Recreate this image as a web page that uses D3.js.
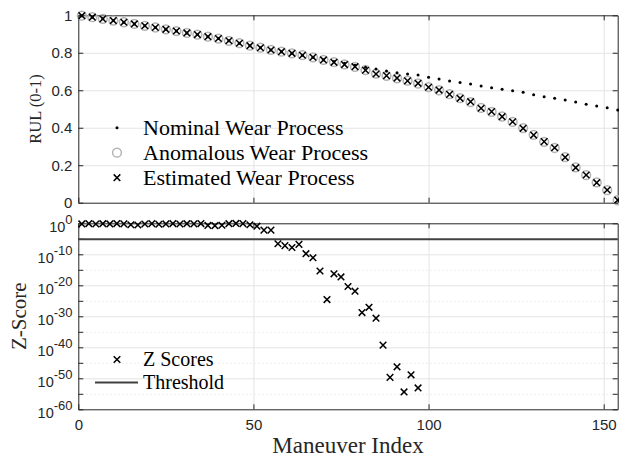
<!DOCTYPE html>
<html>
<head>
<meta charset="utf-8">
<script src="https://cdn.jsdelivr.net/npm/d3@7"></script>
<style>
body { margin: 0; background: #fff; }
</style>
</head>
<body>
<div id="chart"></div>
<script>
console.log("Drawing RUL chart..")

// maneuver indices for the RUL series (every 3rd maneuver)
const maneuverIdx = [1, 4, 7, 10, 13, 16, 19, 22, 25, 28, 31, 34, 37, 40, 43, 46, 49, 52, 55, 58,
    61, 64, 67, 70, 73, 76, 79, 82, 85, 88, 91, 94, 97, 100, 103, 106, 109, 112, 115, 118,
    121, 124, 127, 130, 133, 136, 139, 142, 145, 148, 151, 154];

const nominalRul = [0.998, 0.990, 0.981, 0.972, 0.963, 0.954, 0.944, 0.935, 0.925, 0.916,
    0.906, 0.897, 0.886, 0.876, 0.864, 0.851, 0.838, 0.827, 0.815, 0.806,
    0.797, 0.787, 0.776, 0.763, 0.753, 0.744, 0.734, 0.723, 0.713, 0.703,
    0.694, 0.687, 0.681, 0.669, 0.660, 0.649, 0.642, 0.633, 0.623, 0.614,
    0.605, 0.598, 0.589, 0.576, 0.566, 0.557, 0.548, 0.537, 0.525, 0.516,
    0.507, 0.494];

const anomalousRul = [0.998, 0.990, 0.981, 0.972, 0.963, 0.954, 0.944, 0.935, 0.925, 0.916,
    0.906, 0.897, 0.886, 0.876, 0.864, 0.851, 0.838, 0.827, 0.815, 0.806,
    0.797, 0.787, 0.776, 0.762, 0.750, 0.738, 0.725, 0.708, 0.689, 0.677,
    0.664, 0.651, 0.636, 0.617, 0.600, 0.579, 0.558, 0.537, 0.506, 0.485,
    0.460, 0.431, 0.398, 0.362, 0.325, 0.292, 0.243, 0.189, 0.147, 0.108,
    0.067, 0.013];

const estimatedRul = [0.998, 0.990, 0.981, 0.972, 0.963, 0.954, 0.944, 0.935, 0.925, 0.916,
    0.906, 0.897, 0.886, 0.876, 0.864, 0.851, 0.838, 0.827, 0.815, 0.806,
    0.797, 0.787, 0.776, 0.762, 0.749, 0.737, 0.726, 0.707, 0.687, 0.678,
    0.665, 0.650, 0.637, 0.616, 0.601, 0.578, 0.557, 0.539, 0.504, 0.486,
    0.459, 0.432, 0.397, 0.361, 0.326, 0.293, 0.242, 0.187, 0.148, 0.107,
    0.068, 0.014];

// z scores (every 2nd maneuver)
const zIdx = [1, 3, 5, 7, 9, 11, 13, 15, 17, 19, 21, 23, 25, 27, 29, 31, 33, 35, 37, 39,
    41, 43, 45, 47, 49, 51, 53, 55, 57, 59, 61, 63, 65, 67, 69, 71, 73, 75, 77, 79,
    81, 83, 85, 87, 89, 91, 93, 95, 97];

const zScores = [0.63, 0.8, 0.6, 0.75, 0.62, 0.8, 0.66, 0.35, 0.28, 0.6,
    0.78, 0.5, 0.64, 0.8, 0.6, 0.76, 0.65, 0.8, 0.21, 0.17,
    0.23, 0.75, 0.9, 0.78, 0.35, 0.12, 6.3e-3, 6.3e-3, 2.5e-7, 6.3e-8,
    1.6e-8, 1.6e-7, 1.6e-10, 7.9e-12, 4.0e-16, 2.5e-25, 5.0e-17, 5.0e-18, 4.0e-21, 1.3e-22,
    1.6e-29, 7.9e-28, 2.5e-31, 5.0e-40, 2.0e-50, 5.0e-47, 4.0e-55, 1.3e-49, 7.9e-54];

const zThreshold = 7e-6;

const xTicks = [0, 50, 100, 150];
const rulTicks = [0, 0.2, 0.4, 0.6, 0.8, 1];
const zTickExp = [0, -10, -20, -30, -40, -50, -60];
const zMinorExp = [-5, -15, -25, -35, -45, -55];

const rulLegend = ["Nominal Wear Process", "Anomalous Wear Process", "Estimated Wear Process"];
const zLegend = ["Z Scores", "Threshold"];

var W = 619, H = 459;
var left = 78.3, right = 617.7;
var topY0 = 15.3, topY1 = 202.7;
var botY0 = 223.3, botY1 = 409.3;
var AX = "#262626";
var SANS = "'Liberation Sans', Arial, sans-serif";
var SERIF = "'Liberation Serif', 'Times New Roman', serif";

var svg = d3.select("#chart").append("svg")
    .attr("width", W)
    .attr("height", H)
    .style("display", "block");
svg.append("rect").attr("width", W).attr("height", H).attr("fill", "#fff");

var x = d3.scaleLinear().domain([0, 154]).range([left, right]);
var yRul = d3.scaleLinear().domain([0, 1]).range([topY1, topY0]);
var yZ = d3.scaleLog().domain([1e-60, 1]).range([botY1, botY0]);

var crossPath = "M-3.3,-3.3L3.3,3.3M-3.3,3.3L3.3,-3.3";

function grid(g, axis, color, dash) {
    g.call(axis);
    g.select(".domain").remove();
    g.selectAll("line").attr("stroke", color).attr("stroke-width", 1)
        .attr("stroke-dasharray", dash || null);
}

function styleAxis(g) {
    g.attr("font-size", 15).attr("font-family", SANS);
    g.select(".domain").attr("stroke", AX).attr("stroke-width", 1);
    g.selectAll(".tick line").attr("stroke", AX);
    g.selectAll(".tick text").attr("fill", AX);
}

/// ---- top panel ----
svg.append("g").attr("transform", "translate(0," + topY1 + ")")
    .call(grid, d3.axisBottom(x).tickValues(xTicks.slice(1)).tickSize(-(topY1 - topY0)).tickFormat(""), "#e4e4e4");
svg.append("g").attr("transform", "translate(" + left + ",0)")
    .call(grid, d3.axisLeft(yRul).tickValues(rulTicks.slice(1, 5)).tickSize(-(right - left)).tickFormat(""), "#e4e4e4");

svg.append("g").attr("transform", "translate(" + left + ",0)")
    .call(d3.axisLeft(yRul).tickValues(rulTicks).tickSize(-5).tickSizeOuter(0).tickPadding(6).tickFormat(d => String(d)))
    .call(styleAxis);
svg.append("g").attr("transform", "translate(" + right + ",0)")
    .call(d3.axisRight(yRul).tickValues(rulTicks).tickSize(-5).tickSizeOuter(0).tickFormat(""))
    .call(styleAxis);
svg.append("g").attr("transform", "translate(0," + topY1 + ")")
    .call(d3.axisBottom(x).tickValues(xTicks).tickSize(-5).tickSizeOuter(0).tickFormat(""))
    .call(styleAxis);
svg.append("g").attr("transform", "translate(0," + topY0 + ")")
    .call(d3.axisTop(x).tickValues(xTicks).tickSize(-5).tickSizeOuter(0).tickFormat(""))
    .call(styleAxis);

// anomalous (gray circles), estimated (crosses), nominal (dots)
svg.append("g").selectAll("circle")
    .data(maneuverIdx)
    .join("circle")
    .attr("cx", d => x(d))
    .attr("cy", (d, i) => yRul(anomalousRul[i]))
    .attr("r", 4.4)
    .attr("fill", "none")
    .attr("stroke", "#b4b4b4")
    .attr("stroke-width", 1.5);

svg.append("g").selectAll("path")
    .data(maneuverIdx)
    .join("path")
    .attr("transform", (d, i) => "translate(" + x(d) + "," + yRul(estimatedRul[i]) + ")")
    .attr("d", crossPath)
    .attr("stroke", "#000")
    .attr("stroke-width", 1.5)
    .attr("fill", "none");

svg.append("g").selectAll("circle")
    .data(maneuverIdx)
    .join("circle")
    .attr("cx", d => x(d))
    .attr("cy", (d, i) => yRul(nominalRul[i]))
    .attr("r", 1.5)
    .attr("fill", "#000");

// legend top
var legTop = svg.append("g");
var legY = [127.7, 152.7, 177.7];
legTop.append("circle").attr("cx", 117).attr("cy", legY[0]).attr("r", 1.5).attr("fill", "#000");
legTop.append("circle").attr("cx", 117).attr("cy", legY[1]).attr("r", 4.4)
    .attr("fill", "none").attr("stroke", "#b4b4b4").attr("stroke-width", 1.5);
legTop.append("path").attr("transform", "translate(117," + legY[2] + ")").attr("d", crossPath)
    .attr("stroke", "#000").attr("stroke-width", 1.5);
legTop.selectAll("text")
    .data(rulLegend)
    .join("text")
    .attr("x", 143)
    .attr("y", (d, i) => legY[i] + 7)
    .attr("font-family", SERIF)
    .attr("font-size", 22)
    .attr("fill", "#000")
    .text(d => d);

svg.append("text")
    .attr("transform", "translate(41," + ((topY0 + topY1) / 2) + ") rotate(-90)")
    .attr("text-anchor", "middle")
    .attr("font-family", SERIF)
    .attr("font-size", 16.5)
    .attr("fill", AX)
    .text("RUL (0-1)");

/// ---- bottom panel ----
var zMajor = zTickExp.map(e => Math.pow(10, e));
var zMinor = zMinorExp.map(e => Math.pow(10, e));

svg.append("g").attr("transform", "translate(" + left + ",0)")
    .call(grid, d3.axisLeft(yZ).tickValues(zMinor).tickSize(-(right - left)).tickFormat(""), "#dcdcdc", "1,3");
svg.append("g").attr("transform", "translate(" + left + ",0)")
    .call(grid, d3.axisLeft(yZ).tickValues(zMajor.slice(1, 6)).tickSize(-(right - left)).tickFormat(""), "#e4e4e4");
svg.append("g").attr("transform", "translate(0," + botY1 + ")")
    .call(grid, d3.axisBottom(x).tickValues(xTicks.slice(1)).tickSize(-(botY1 - botY0)).tickFormat(""), "#e4e4e4");

svg.append("g").attr("transform", "translate(" + left + ",0)")
    .call(d3.axisLeft(yZ).tickValues(zMajor.concat(zMinor)).tickSize(-5).tickSizeOuter(0).tickFormat(""))
    .call(styleAxis);
svg.append("g").attr("transform", "translate(" + right + ",0)")
    .call(d3.axisRight(yZ).tickValues(zMajor.concat(zMinor)).tickSize(-5).tickSizeOuter(0).tickFormat(""))
    .call(styleAxis);
svg.append("g").attr("transform", "translate(0," + botY1 + ")")
    .call(d3.axisBottom(x).tickValues(xTicks).tickSize(-5).tickSizeOuter(0).tickPadding(10.5).tickFormat(d => String(d)))
    .call(styleAxis);
svg.append("g").attr("transform", "translate(0," + botY0 + ")")
    .call(d3.axisTop(x).tickValues(xTicks).tickSize(-5).tickSizeOuter(0).tickFormat(""))
    .call(styleAxis);

// log labels 10^n
var zLab = svg.append("g").attr("font-family", SANS).attr("fill", AX);
zLab.selectAll("text")
    .data(zTickExp)
    .join("text")
    .attr("x", 72.5)
    .attr("y", d => yZ(Math.pow(10, d)) + 9)
    .attr("text-anchor", "end")
    .each(function(d) {
        var t = d3.select(this);
        t.append("tspan").attr("font-size", 14.5).text("10");
        t.append("tspan").attr("font-size", 13).attr("dy", -8.5).text(String(d));
    });

// threshold
svg.append("line")
    .attr("x1", x(0)).attr("x2", x(154))
    .attr("y1", yZ(zThreshold)).attr("y2", yZ(zThreshold))
    .attr("stroke", "#404040")
    .attr("stroke-width", 2);

svg.append("g").selectAll("path")
    .data(zIdx)
    .join("path")
    .attr("transform", (d, i) => "translate(" + x(d) + "," + yZ(zScores[i]) + ")")
    .attr("d", crossPath)
    .attr("stroke", "#000")
    .attr("stroke-width", 1.5)
    .attr("fill", "none");

// legend bottom
var legBot = svg.append("g");
var legY2 = [359.5, 382.5];
legBot.append("path").attr("transform", "translate(117," + legY2[0] + ")").attr("d", crossPath)
    .attr("stroke", "#000").attr("stroke-width", 1.5);
legBot.append("line").attr("x1", 95).attr("x2", 138).attr("y1", legY2[1]).attr("y2", legY2[1])
    .attr("stroke", "#404040").attr("stroke-width", 2);
legBot.selectAll("text")
    .data(zLegend)
    .join("text")
    .attr("x", 143)
    .attr("y", (d, i) => legY2[i] + 6.5)
    .attr("font-family", SERIF)
    .attr("font-size", 20)
    .attr("fill", "#000")
    .text(d => d);

svg.append("text")
    .attr("transform", "translate(26," + ((botY0 + botY1) / 2) + ") rotate(-90)")
    .attr("text-anchor", "middle")
    .attr("font-family", SERIF)
    .attr("font-size", 21)
    .attr("fill", AX)
    .text("Z-Score");

svg.append("text")
    .attr("x", (left + right) / 2)
    .attr("y", 453)
    .attr("text-anchor", "middle")
    .attr("font-family", SERIF)
    .attr("font-size", 23)
    .attr("fill", AX)
    .text("Maneuver Index");
</script>
</body>
</html>
